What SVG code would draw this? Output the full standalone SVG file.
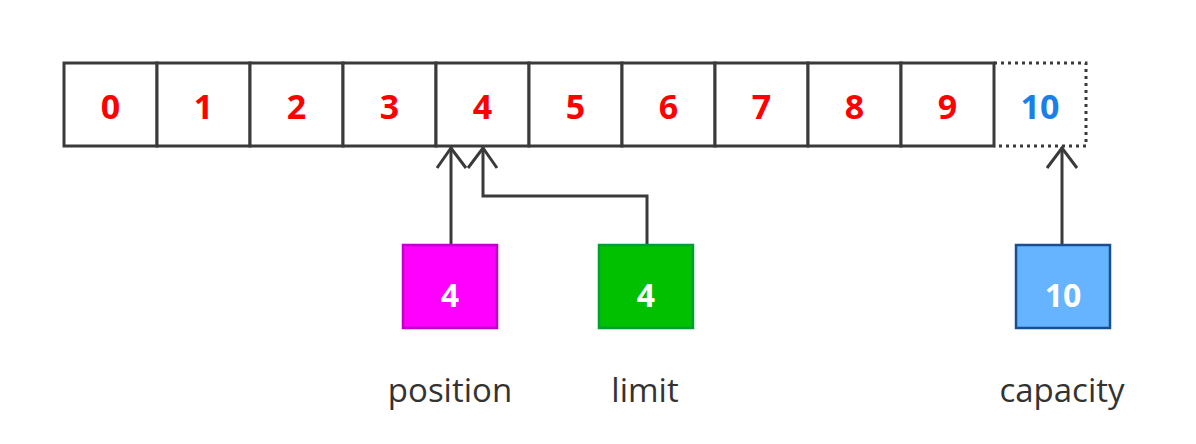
<svg xmlns="http://www.w3.org/2000/svg" width="1196" height="444" viewBox="0 0 1196 444">
<defs>
<style>
.cell{fill:#fff;stroke:#3a3a3a;stroke-width:3}
.num{font-family:"Open Sans","Noto Sans",sans-serif;font-weight:bold;font-size:34px;fill:#ff0000;text-anchor:middle}
.bnum{font-family:"Open Sans","Noto Sans",sans-serif;font-weight:bold;font-size:32px;fill:#ffffff;text-anchor:middle}
.lbl{font-family:"Open Sans","Noto Sans",sans-serif;font-size:33px;fill:#333333;text-anchor:middle}
.conn{fill:none;stroke:#3a3a3a;stroke-width:3}
</style>
</defs>
<rect width="1196" height="444" fill="#fff"/>
<g id="array">
<rect class="cell" x="64" y="63" width="93" height="83"/>
<rect class="cell" x="157" y="63" width="93" height="83"/>
<rect class="cell" x="250" y="63" width="93" height="83"/>
<rect class="cell" x="343" y="63" width="93" height="83"/>
<rect class="cell" x="436" y="63" width="93" height="83"/>
<rect class="cell" x="529" y="63" width="93" height="83"/>
<rect class="cell" x="622" y="63" width="93" height="83"/>
<rect class="cell" x="715" y="63" width="93" height="83"/>
<rect class="cell" x="808" y="63" width="93" height="83"/>
<rect class="cell" x="901" y="63" width="93" height="83"/>
<path d="M994 63 H1086 V146 H994" fill="none" stroke="#3a3a3a" stroke-width="3" stroke-dasharray="3,4"/>
<text class="num" x="110.5" y="119">0</text>
<text class="num" x="203.5" y="119">1</text>
<text class="num" x="296.5" y="119">2</text>
<text class="num" x="389.5" y="119">3</text>
<text class="num" x="482.5" y="119">4</text>
<text class="num" x="575.5" y="119">5</text>
<text class="num" x="668.5" y="119">6</text>
<text class="num" x="761.5" y="119">7</text>
<text class="num" x="854.5" y="119">8</text>
<text class="num" x="947.5" y="119">9</text>
<text class="num" x="1040" y="119" fill="#1a7fe8" style="fill:#1a7fe8">10</text>
</g>
<g id="connectors">
<path class="conn" d="M451 245 V147"/>
<path class="conn" d="M437 168 L451 148 L466 168"/>
<path class="conn" d="M647 245 V196 H483 V147"/>
<path class="conn" d="M468 168 L483 148 L497 168"/>
<path class="conn" d="M1062 245 V147"/>
<path class="conn" d="M1047 168 L1062 148 L1077 168"/>
</g>
<g id="position">
<rect x="403" y="245" width="94" height="83" fill="#ff00ff" stroke="#c000c8" stroke-width="2.5"/>
<text class="bnum" x="450" y="307">4</text>
<text class="lbl" x="450" y="402">position</text>
</g>
<g id="limit">
<rect x="599" y="245" width="94" height="83" fill="#00c000" stroke="#00a030" stroke-width="2.5"/>
<text class="bnum" x="646" y="307">4</text>
<text class="lbl" x="645" y="402">limit</text>
</g>
<g id="capacity">
<rect x="1016" y="245" width="94" height="83" fill="#66b3ff" stroke="#1a4f8f" stroke-width="2.5"/>
<text class="bnum" x="1063" y="307">10</text>
<text class="lbl" x="1062" y="402">capacity</text>
</g>
</svg>
